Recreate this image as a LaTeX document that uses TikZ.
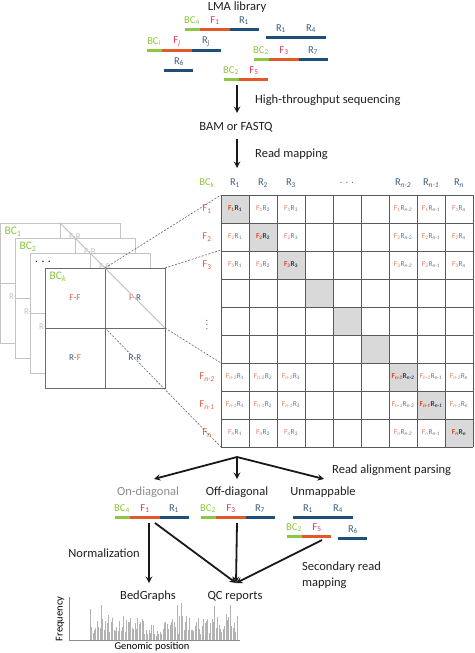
\documentclass[tikz,border=0pt]{standalone}
\usepackage{fontspec}
\setmainfont{Carlito}
\usetikzlibrary{arrows,calc}

\definecolor{bcgreen}{HTML}{8DC63F}
\definecolor{forange}{HTML}{E2582A}
\definecolor{rnavy}{HTML}{1F4E79}
\definecolor{fred}{HTML}{E8334A}
\definecolor{rblue}{HTML}{3B5C7E}
\definecolor{cellf}{HTML}{E8775A}
\definecolor{cellr}{HTML}{58779A}
\definecolor{diagf}{HTML}{D9482B}
\definecolor{diagr}{HTML}{1F3F63}
\definecolor{rowf}{HTML}{E0603E}
\definecolor{diagcell}{HTML}{D9D9D9}
\definecolor{gridgray}{HTML}{5A5A5A}
\definecolor{fadegray}{HTML}{C4C4C4}

\newcommand{\lsub}[1]{\textsubscript{#1}}

\begin{document}
\begin{tikzpicture}[>=stealth,x=1pt,y=-1pt,
    every node/.style={inner sep=0pt},
    steptext/.style={font=\fontsize{12.5}{16}\selectfont,text=black!88},
    readlab/.style={font=\fontsize{10.5}{12}\selectfont},
    bcseg/.style={bcgreen,line width=3pt},
    fseg/.style={forange,line width=3pt},
    rseg/.style={rnavy,line width=3pt},
    flow/.style={->,line width=1.8pt,black!90},
    gridline/.style={gridgray,line width=0.9pt},
    cellnum/.style={font=\fontsize{7.5}{8}\selectfont},
    matlab/.style={font=\fontsize{10.5}{12}\selectfont},
    backsq/.style={fadegray,line width=0.7pt},
    frontsq/.style={black!58,line width=1pt},
    quad/.style={font=\fontsize{9}{10}\selectfont},
    zoomline/.style={black!60,line width=0.6pt,dash pattern=on 2pt off 1.5pt},
    histbar/.style={black!30,line width=0.6pt}]

  \useasboundingbox (0,0) rectangle (474,653);

  % library and sequencing
  \node[steptext] (lib) at (237,7) {LMA library};
  \foreach \x/\y/\bci/\fj/\rk in {185/29/4/1/1, 147/50/\itshape i/\itshape j/\itshape j, 254/59/2/3/7, 115/517/4/1/1, 201/517/2/3/7} {
    \draw[bcseg] (\x,\y) -- (\x+15,\y);
    \draw[fseg] (\x+15,\y) -- (\x+45,\y);
    \draw[rseg] (\x+45,\y) -- (\x+74,\y);
    \node[readlab,text=bcgreen] (bc\x\y) at (\x+7,\y-8.5) {BC\lsub{\bci}};
    \node[readlab,text=fred] (f\x\y) at (\x+30,\y-8.5) {F\lsub{\fj}};
    \node[readlab,text=rblue] (r\x\y) at (\x+59,\y-8.5) {R\lsub{\rk}};
  }
  \foreach \x/\y in {224/79, 287/536} { % reads with no R
    \draw[bcseg] (\x,\y) -- (\x+15,\y);
    \draw[fseg] (\x+15,\y) -- (\x+44,\y);
    \node[readlab,text=bcgreen] (bc\x\y) at (\x+7,\y-8.5) {BC\lsub{2}};
    \node[readlab,text=fred] (f\x\y) at (\x+30,\y-8.5) {F\lsub{5}};
  }
  \foreach \x/\y in {266/37, 293/517} { % R1 R4 pairs
    \draw[rseg] (\x,\y) -- (\x+60,\y);
    \node[readlab,text=rblue] (ra\x\y) at (\x+15,\y-8.5) {R\lsub{1}};
    \node[readlab,text=rblue] (rb\x\y) at (\x+45,\y-8.5) {R\lsub{4}};
  }
  \foreach \x/\y in {164/70, 338/538} { % lone R6
    \draw[rseg] (\x,\y) -- (\x+29,\y);
    \node[readlab,text=rblue] (rs\x\y) at (\x+15,\y-8.5) {R\lsub{6}};
  }

  \coordinate (seqA) at (237,85);
  \coordinate (seqB) at (237,113);
  \draw[flow] (seqA) -- (seqB);
  \node[steptext,anchor=west] (hts) at (255,100) {High-throughput sequencing};
  \node[steptext] (bam) at (236,127) {BAM or FASTQ};
  \coordinate (mapA) at (237,139);
  \coordinate (mapB) at (237,168);
  \draw[flow] (mapA) -- (mapB);
  \node[steptext,anchor=west] (rmap) at (255,154) {Read mapping};

  % contact matrix
  \foreach \k in {1,...,9}
    \fill[diagcell] (193+28*\k,167+28*\k) rectangle ++(28,28);
  \foreach \k in {0,...,9} {
    \draw[gridline] (221+28*\k,195) -- (221+28*\k,447);
    \draw[gridline] (221,195+28*\k) -- (473,195+28*\k);
  }
  \node[matlab,text=bcgreen] (bck) at (207,183) {BC\lsub{\itshape k}};
  \node[matlab,text=black!55] (cdots) at (347,183) {. . .};
  \node[matlab,text=black!55] (rdots) at (207,322) {$\vdots$};
  \foreach \j/\ridx in {1/1,2/2,3/3,7/\itshape n-2,8/\itshape n-1,9/\itshape n}
    \node[matlab,text=rblue] (col\j) at (207+28*\j,183) {R\lsub{\ridx}};
  \foreach \i/\fidx in {1/1,2/2,3/3,7/\itshape n-2,8/\itshape n-1,9/\itshape n} {
    \node[matlab,text=rowf] (row\i) at (207,181+28*\i) {F\lsub{\fidx}};
    \foreach \j/\ridx in {1/1,2/2,3/3,7/\itshape n-2,8/\itshape n-1,9/\itshape n} {
      \ifnum\i=\j
        \node[cellnum,font=\fontsize{7.5}{8}\selectfont\bfseries] (c\i\j) at (207+28*\j,181+28*\i) {\textcolor{diagf}{F\lsub{\fidx}}\textcolor{diagr}{R\lsub{\ridx}}};
      \else
        \node[cellnum] (c\i\j) at (207+28*\j,181+28*\i) {\textcolor{cellf}{F\lsub{\fidx}}\textcolor{cellr}{R\lsub{\ridx}}};
      \fi
    }
  }

  % stacked barcode squares
  \foreach \sh/\bcl in {0/BC\lsub{1}, 15/BC\lsub{2}, 30/\textcolor{black}{. . .}} {
    \fill[white] (\sh,223+\sh) rectangle ++(120,120);
    \draw[backsq] (\sh,223+\sh) rectangle ++(120,120);
    \draw[backsq] (\sh+60,223+\sh) -- ++(0,120);
    \draw[backsq] (\sh,283+\sh) -- ++(120,0);
    \node[quad,text=fadegray] (fr\sh) at (\sh+75,237+\sh) {F-R};
    \node[quad,text=fadegray] (rf\sh) at (\sh+15,297+\sh) {R-F};
    \node[quad,text=fadegray] (rr\sh) at (\sh+75,297+\sh) {R-R};
    \node[matlab,font=\fontsize{11.5}{12}\selectfont,text=bcgreen] (bcl\sh) at (\sh+13,232+\sh) {\bcl};
  }
  \fill[white] (45,268) rectangle (165,388);
  \draw[frontsq] (45,268) rectangle (165,388);
  \draw[frontsq] (105,268) -- (105,388);
  \draw[frontsq] (45,328) -- (165,328);
  \node[matlab,font=\fontsize{11.5}{12}\selectfont,text=bcgreen] (bcfront) at (58,277) {BC\lsub{\itshape k}};
  \node[quad] (qff) at (75,298) {\textcolor{rowf}{F}\textcolor{black!50}{-}\textcolor{rowf}{F}};
  \node[quad] (qfr) at (135,298) {\textcolor{rowf}{F}\textcolor{black!50}{-}\textcolor{rblue}{R}};
  \node[quad] (qrf) at (75,358) {\textcolor{rblue}{R}\textcolor{black!50}{-}\textcolor{rowf}{F}};
  \node[quad] (qrr) at (135,358) {\textcolor{rblue}{R}\textcolor{black!50}{-}\textcolor{rblue}{R}};
  \coordinate (diagA) at (60,223);
  \coordinate (diagB) at (165,328);
  \draw[black!25,line width=0.8pt] (diagA) -- (diagB); % F-R diagonal

  % zoom lines to the matrix
  \coordinate (frT) at (105,268);
  \coordinate (frTR) at (165,268);
  \coordinate (frR) at (165,328);
  \coordinate (frC) at (105,328);
  \coordinate (m1) at (221,195);
  \coordinate (m2) at (221,250);
  \coordinate (m3) at (221,363);
  \coordinate (m4) at (221,447);
  \draw[zoomline] (frT) -- (m1);
  \draw[zoomline] (frTR) -- (m2);
  \draw[zoomline] (frR) -- (m3);
  \draw[zoomline] (frC) -- (m4);

  % read alignment parsing
  \coordinate (split) at (237,457);
  \coordinate (toOn) at (154,479);
  \coordinate (toOff) at (237,479);
  \coordinate (toUn) at (324,479);
  \draw[flow] (split) -- (toOn);
  \draw[flow] (split) -- (toOff);
  \draw[flow] (split) -- (toUn);
  \node[steptext,anchor=west] (rap) at (332,470) {Read alignment parsing};
  \node[steptext,text=black!45] (ondiag) at (148,492) {On-diagonal};
  \node[steptext] (offdiag) at (237,492) {Off-diagonal};
  \node[steptext] (unmap) at (323,492) {Unmappable};

  % outputs
  \coordinate (onA) at (149,523);
  \coordinate (onB) at (155,523);
  \coordinate (offA) at (237,523);
  \coordinate (unA) at (322,540);
  \coordinate (bedT) at (149,583);
  \coordinate (qcT) at (236,583);
  \draw[flow] (onA) -- (bedT);
  \draw[flow] (onB) -- (qcT);
  \draw[flow] (offA) -- (qcT);
  \draw[flow] (unA) -- (qcT);
  \node[steptext,anchor=east] (norm) at (140,553) {Normalization};
  \node[steptext,anchor=west,align=left] (sec) at (302,575) {Secondary read\\mapping};
  \node[steptext] (bed) at (148,596) {BedGraphs};
  \node[steptext] (qc) at (235,596) {QC reports};

  % genome track
  \pgfmathsetseed{11}
  \foreach \x in {90,91.4,...,237} {
    \pgfmathsetmacro\h{(6+20*rnd+12*(rnd>0.85))*(1-0.5*exp(-((\x-158)/9)^2))}
    \draw[histbar] (\x,640) -- ++(0,-\h);
  }
  \coordinate (hy) at (69,597);
  \coordinate (ho) at (69,640);
  \coordinate (hx) at (240,640);
  \draw[black!45,line width=0.7pt] (hy) -- (ho) -- (hx);
  \node[font=\fontsize{10.5}{12}\selectfont,rotate=90] (freq) at (60,619) {Frequency};
  \node[font=\fontsize{10.5}{12}\selectfont] (gpos) at (152,647) {Genomic position};
\end{tikzpicture}
\end{document}
